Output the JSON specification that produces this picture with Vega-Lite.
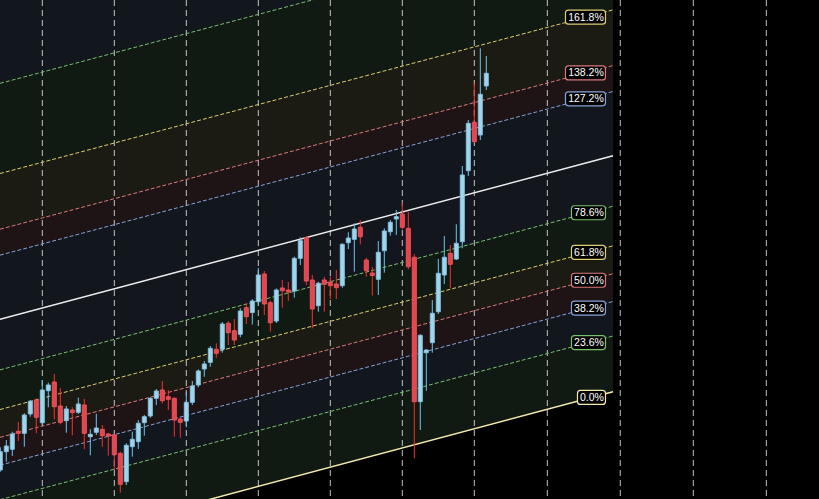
{
  "$schema": "https://vega.github.io/schema/vega-lite/v6.json",
  "width": 819,
  "height": 499,
  "padding": 0,
  "autosize": {"type": "none"},
  "background": "#000000",
  "config": {"view": {"stroke": null}, "scale": {"continuousPadding": 0}},
  "datasets": {
    "candles": [
      {"i":0,"o":52.29,"h":61.91,"l":51.57,"c":60.04},
      {"i":1,"o":60.04,"h":65.00,"l":55.81,"c":62.46},
      {"i":2,"o":61.06,"h":68.52,"l":58.22,"c":67.54},
      {"i":3,"o":68.69,"h":72.63,"l":64.58,"c":67.84},
      {"i":4,"o":67.84,"h":76.31,"l":62.16,"c":75.59},
      {"i":5,"o":76.02,"h":81.95,"l":74.87,"c":81.40},
      {"i":6,"o":81.95,"h":82.67,"l":67.84,"c":74.62},
      {"i":7,"o":72.33,"h":90.42,"l":71.36,"c":86.19},
      {"i":8,"o":85.89,"h":89.28,"l":78.86,"c":88.31},
      {"i":9,"o":89.58,"h":92.97,"l":73.77,"c":79.11},
      {"i":10,"o":79.41,"h":87.03,"l":71.65,"c":72.50},
      {"i":11,"o":73.18,"h":79.41,"l":68.09,"c":78.14},
      {"i":12,"o":77.71,"h":78.86,"l":66.99,"c":76.57},
      {"i":13,"o":76.74,"h":82.92,"l":76.02,"c":80.25},
      {"i":14,"o":79.83,"h":82.37,"l":61.06,"c":67.84},
      {"i":15,"o":66.40,"h":69.53,"l":58.52,"c":67.42},
      {"i":16,"o":68.26,"h":76.14,"l":67.12,"c":70.08},
      {"i":17,"o":69.53,"h":71.36,"l":62.16,"c":66.82},
      {"i":18,"o":67.54,"h":67.84,"l":58.35,"c":66.69},
      {"i":19,"o":67.12,"h":67.54,"l":52.29,"c":58.77},
      {"i":20,"o":59.36,"h":60.04,"l":42.67,"c":46.23},
      {"i":21,"o":47.33,"h":63.60,"l":45.93,"c":62.75},
      {"i":22,"o":62.16,"h":68.52,"l":57.92,"c":65.30},
      {"i":23,"o":64.28,"h":73.47,"l":61.19,"c":72.08},
      {"i":24,"o":72.33,"h":75.59,"l":66.82,"c":74.87},
      {"i":25,"o":75.17,"h":83.09,"l":74.45,"c":82.67},
      {"i":26,"o":82.67,"h":86.61,"l":79.83,"c":85.76},
      {"i":27,"o":86.19,"h":90.00,"l":80.55,"c":81.65},
      {"i":28,"o":83.35,"h":86.19,"l":77.71,"c":82.25},
      {"i":29,"o":82.67,"h":83.09,"l":66.40,"c":73.47},
      {"i":30,"o":73.90,"h":74.62,"l":65.97,"c":72.50},
      {"i":31,"o":73.05,"h":85.47,"l":70.38,"c":80.97},
      {"i":32,"o":80.97,"h":90.00,"l":79.83,"c":87.88},
      {"i":33,"o":88.31,"h":94.96,"l":87.33,"c":94.24},
      {"i":34,"o":95.08,"h":98.47,"l":91.82,"c":97.20},
      {"i":35,"o":97.92,"h":104.83,"l":96.06,"c":103.86},
      {"i":36,"o":103.43,"h":105.97,"l":99.87,"c":101.74},
      {"i":37,"o":103.43,"h":115.00,"l":101.99,"c":114.15},
      {"i":38,"o":114.45,"h":115.42,"l":105.25,"c":110.47},
      {"i":39,"o":111.31,"h":116.27,"l":105.25,"c":107.37},
      {"i":40,"o":109.79,"h":120.80,"l":108.52,"c":119.66},
      {"i":41,"o":121.06,"h":122.92,"l":114.15,"c":117.25},
      {"i":42,"o":119.03,"h":124.62,"l":113.94,"c":123.90},
      {"i":43,"o":123.60,"h":137.88,"l":121.99,"c":134.92},
      {"i":44,"o":135.34,"h":136.61,"l":117.97,"c":122.63},
      {"i":45,"o":123.18,"h":124.11,"l":110.89,"c":114.70},
      {"i":46,"o":115.42,"h":129.20,"l":114.58,"c":128.56},
      {"i":47,"o":129.41,"h":132.80,"l":121.06,"c":128.26},
      {"i":48,"o":128.56,"h":131.95,"l":123.90,"c":127.71},
      {"i":49,"o":128.14,"h":142.67,"l":125.30,"c":141.99},
      {"i":50,"o":141.99,"h":150.89,"l":139.15,"c":149.45},
      {"i":51,"o":150.72,"h":151.14,"l":130.68,"c":132.37},
      {"i":52,"o":132.80,"h":134.92,"l":112.33,"c":120.51},
      {"i":53,"o":121.91,"h":132.08,"l":119.36,"c":131.40},
      {"i":54,"o":132.80,"h":134.20,"l":119.36,"c":130.97},
      {"i":55,"o":131.82,"h":134.20,"l":124.75,"c":130.38},
      {"i":56,"o":131.10,"h":137.03,"l":124.75,"c":129.53},
      {"i":57,"o":130.38,"h":148.35,"l":129.53,"c":147.92},
      {"i":58,"o":148.60,"h":153.01,"l":145.93,"c":150.59},
      {"i":59,"o":150.04,"h":156.82,"l":136.31,"c":154.41},
      {"i":60,"o":155.13,"h":158.22,"l":147.92,"c":151.14},
      {"i":61,"o":141.27,"h":142.25,"l":134.20,"c":136.74},
      {"i":62,"o":135.76,"h":138.31,"l":126.23,"c":134.70},
      {"i":63,"o":133.09,"h":149.32,"l":126.44,"c":144.53},
      {"i":64,"o":145.21,"h":154.70,"l":135.89,"c":153.56},
      {"i":65,"o":153.26,"h":158.22,"l":151.57,"c":157.25},
      {"i":66,"o":158.64,"h":162.46,"l":151.86,"c":159.62},
      {"i":67,"o":160.76,"h":165.55,"l":154.28,"c":155.13},
      {"i":68,"o":154.70,"h":161.74,"l":137.33,"c":138.43},
      {"i":69,"o":142.42,"h":143.81,"l":57.25,"c":81.23},
      {"i":70,"o":81.23,"h":109.79,"l":69.24,"c":109.36},
      {"i":71,"o":101.99,"h":103.43,"l":85.89,"c":103.14},
      {"i":72,"o":106.23,"h":124.32,"l":101.99,"c":118.69},
      {"i":73,"o":119.36,"h":141.69,"l":118.39,"c":135.64},
      {"i":74,"o":134.92,"h":151.44,"l":131.10,"c":142.42},
      {"i":75,"o":144.11,"h":147.63,"l":129.28,"c":139.45},
      {"i":76,"o":141.69,"h":156.40,"l":141.27,"c":148.35},
      {"i":77,"o":149.03,"h":181.10,"l":146.23,"c":177.29},
      {"i":78,"o":179.11,"h":200.59,"l":176.87,"c":199.20},
      {"i":79,"o":199.62,"h":216.14,"l":190.98,"c":191.40},
      {"i":80,"o":194.24,"h":230.97,"l":192.12,"c":211.48},
      {"i":81,"o":215.00,"h":227.71,"l":213.31,"c":220.38}
    ],
    "levels": [
      {"level":"0.0","x":-0.05,"p":16.11},{"level":"0.0","x":102.12,"p":85.47},
      {"level":"23.6","x":-0.05,"p":39.71},{"level":"23.6","x":102.12,"p":109.07},
      {"level":"38.2","x":-0.05,"p":54.31},{"level":"38.2","x":102.12,"p":123.67},
      {"level":"50.0","x":-0.05,"p":66.11},{"level":"50.0","x":102.12,"p":135.47},
      {"level":"61.8","x":-0.05,"p":77.91},{"level":"61.8","x":102.12,"p":147.27},
      {"level":"78.6","x":-0.05,"p":94.71},{"level":"78.6","x":102.12,"p":164.07},
      {"level":"100","x":-0.05,"p":116.11},{"level":"100","x":102.12,"p":185.47},
      {"level":"127.2","x":-0.05,"p":143.31},{"level":"127.2","x":102.12,"p":212.67},
      {"level":"138.2","x":-0.05,"p":154.31},{"level":"138.2","x":102.12,"p":223.67},
      {"level":"161.8","x":-0.05,"p":177.91},{"level":"161.8","x":102.12,"p":247.27},
      {"level":"200","x":-0.05,"p":216.11},{"level":"200","x":102.12,"p":285.47}
    ],
    "bands": [
      {"band":"23.6","x":-0.05,"lo":16.11,"hi":39.71},{"band":"23.6","x":102.12,"lo":85.47,"hi":109.07},
      {"band":"38.2","x":-0.05,"lo":39.71,"hi":54.31},{"band":"38.2","x":102.12,"lo":109.07,"hi":123.67},
      {"band":"50.0","x":-0.05,"lo":54.31,"hi":66.11},{"band":"50.0","x":102.12,"lo":123.67,"hi":135.47},
      {"band":"61.8","x":-0.05,"lo":66.11,"hi":77.91},{"band":"61.8","x":102.12,"lo":135.47,"hi":147.27},
      {"band":"78.6","x":-0.05,"lo":77.91,"hi":94.71},{"band":"78.6","x":102.12,"lo":147.27,"hi":164.07},
      {"band":"100","x":-0.05,"lo":94.71,"hi":116.11},{"band":"100","x":102.12,"lo":164.07,"hi":185.47},
      {"band":"127.2","x":-0.05,"lo":116.11,"hi":143.31},{"band":"127.2","x":102.12,"lo":185.47,"hi":212.67},
      {"band":"138.2","x":-0.05,"lo":143.31,"hi":154.31},{"band":"138.2","x":102.12,"lo":212.67,"hi":223.67},
      {"band":"161.8","x":-0.05,"lo":154.31,"hi":177.91},{"band":"161.8","x":102.12,"lo":223.67,"hi":247.27},
      {"band":"200","x":-0.05,"lo":177.91,"hi":216.11},{"band":"200","x":102.12,"lo":247.27,"hi":285.47},
      {"band":"261.8","x":-0.05,"lo":216.11,"hi":277.91},{"band":"261.8","x":102.12,"lo":285.47,"hi":347.27}
    ],
    "labels": [
      {"level":"161.8","label":"161.8%","x":97.53,"p":244.16},
      {"level":"138.2","label":"138.2%","x":97.53,"p":220.56},
      {"level":"127.2","label":"127.2%","x":97.53,"p":209.56},
      {"level":"78.6","label":"78.6%","x":98.03,"p":161.30},
      {"level":"61.8","label":"61.8%","x":98.03,"p":144.50},
      {"level":"50.0","label":"50.0%","x":98.03,"p":132.70},
      {"level":"38.2","label":"38.2%","x":98.03,"p":120.90},
      {"level":"23.6","label":"23.6%","x":98.03,"p":106.30},
      {"level":"0.0","label":"0.0%","x":98.53,"p":83.04}
    ],
    "grid": [
      {"x":7},{"x":19},{"x":31},{"x":43},{"x":55},{"x":67},{"x":79},
      {"x":91.17},{"x":103.33},{"x":115.5},{"x":127.67}
    ]
  },
  "layer": [
    {
      "data": {"name": "bands"},
      "mark": {"type": "area", "clip": true, "interpolate": "linear"},
      "encoding": {
        "x": {"field": "x", "type": "quantitative", "axis": null, "scale": {"domain": [-0.05, 136.45], "nice": false, "zero": false, "padding": 0}},
        "y": {"field": "lo", "type": "quantitative", "axis": null, "scale": {"domain": [40, 251.44], "nice": false, "zero": false, "padding": 0}},
        "y2": {"field": "hi"},
        "detail": {"field": "band"},
        "fill": {
          "field": "band", "type": "nominal", "legend": null,
          "scale": {
            "domain": ["23.6","38.2","50.0","61.8","78.6","100","127.2","138.2","161.8","200","261.8"],
            "range": ["#101a12","#12161d","#1e1315","#1c1b13","#101a12","#13161d","#12161d","#1e1315","#1c1b13","#101a12","#12161d"]
          }
        }
      }
    },
    {
      "data": {"name": "grid"},
      "mark": {"type": "rule", "stroke": "#c4c4c4", "strokeWidth": 1, "strokeDash": [6, 4]},
      "encoding": {
        "x": {"field": "x", "type": "quantitative", "axis": null}
      }
    },
    {
      "data": {"name": "levels"},
      "transform": [{"filter": "datum.level != '0.0' && datum.level != '100'"}],
      "mark": {"type": "line", "clip": true, "strokeWidth": 1, "strokeDash": [4, 2]},
      "encoding": {
        "x": {"field": "x", "type": "quantitative", "axis": null},
        "y": {"field": "p", "type": "quantitative", "axis": null},
        "detail": {"field": "level"},
        "stroke": {
          "field": "level", "type": "nominal", "legend": null,
          "scale": {
            "domain": ["0.0","23.6","38.2","50.0","61.8","78.6","100","127.2","138.2","161.8","200"],
            "range": ["#f4eaae","#78c070","#85a4dc","#dc7a7c","#dccf70","#78c070","#eeeeee","#85a4dc","#dc7a7c","#dccf70","#78c070"]
          }
        }
      }
    },
    {
      "data": {"name": "levels"},
      "transform": [{"filter": "datum.level == '0.0' || datum.level == '100'"}],
      "mark": {"type": "line", "clip": true, "strokeWidth": 1.5},
      "encoding": {
        "x": {"field": "x", "type": "quantitative", "axis": null},
        "y": {"field": "p", "type": "quantitative", "axis": null},
        "detail": {"field": "level"},
        "stroke": {"field": "level", "type": "nominal", "legend": null}
      }
    },
    {
      "data": {"name": "candles"},
      "mark": {"type": "rule", "strokeWidth": 1},
      "encoding": {
        "x": {"field": "i", "type": "quantitative", "axis": null},
        "y": {"field": "l", "type": "quantitative", "axis": null},
        "y2": {"field": "h"},
        "color": {"condition": {"test": "datum.c >= datum.o", "value": "#6cc6ef"}, "value": "#ff2b2b"}
      }
    },
    {
      "data": {"name": "candles"},
      "mark": {"type": "bar", "width": 4, "strokeWidth": 1},
      "encoding": {
        "x": {"field": "i", "type": "quantitative", "axis": null},
        "y": {"field": "o", "type": "quantitative", "axis": null},
        "y2": {"field": "c"},
        "fill": {"condition": {"test": "datum.c >= datum.o", "value": "#a2d4ea"}, "value": "#e2474f"},
        "stroke": {"condition": {"test": "datum.c >= datum.o", "value": "#80c2e2"}, "value": "#f25058"}
      }
    },
    {
      "data": {"name": "labels"},
      "transform": [{"filter": "length(datum.label) == 6"}],
      "mark": {"type": "rect", "width": 40, "height": 14, "cornerRadius": 3, "fill": "#000000", "strokeWidth": 1.2},
      "encoding": {
        "x": {"field": "x", "type": "quantitative", "axis": null},
        "y": {"field": "p", "type": "quantitative", "axis": null},
        "stroke": {"field": "level", "type": "nominal", "legend": null}
      }
    },
    {
      "data": {"name": "labels"},
      "transform": [{"filter": "length(datum.label) == 5"}],
      "mark": {"type": "rect", "width": 34, "height": 14, "cornerRadius": 3, "fill": "#000000", "strokeWidth": 1.2},
      "encoding": {
        "x": {"field": "x", "type": "quantitative", "axis": null},
        "y": {"field": "p", "type": "quantitative", "axis": null},
        "stroke": {"field": "level", "type": "nominal", "legend": null}
      }
    },
    {
      "data": {"name": "labels"},
      "transform": [{"filter": "length(datum.label) == 4"}],
      "mark": {"type": "rect", "width": 28, "height": 14, "cornerRadius": 3, "fill": "#000000", "strokeWidth": 1.2},
      "encoding": {
        "x": {"field": "x", "type": "quantitative", "axis": null},
        "y": {"field": "p", "type": "quantitative", "axis": null},
        "stroke": {"field": "level", "type": "nominal", "legend": null}
      }
    },
    {
      "data": {"name": "labels"},
      "mark": {"type": "text", "font": "Liberation Sans", "fontSize": 10.5, "fill": "#ffffff", "align": "center", "baseline": "middle", "dx": 0.5, "dy": 0.5},
      "encoding": {
        "x": {"field": "x", "type": "quantitative", "axis": null},
        "y": {"field": "p", "type": "quantitative", "axis": null},
        "text": {"field": "label"}
      }
    }
  ]
}
